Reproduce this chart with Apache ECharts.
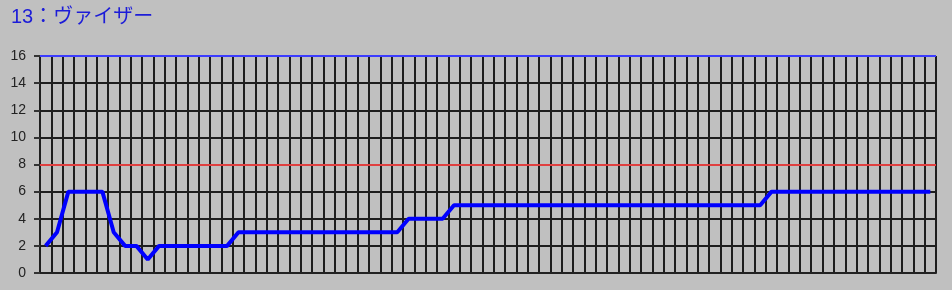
<!DOCTYPE html>
<html>
<head>
<meta charset="utf-8">
<script src="https://cdn.jsdelivr.net/npm/echarts@6/dist/echarts.min.js"></script>
<style>
html,body{margin:0;padding:0;background:#c0c0c0;}
#c{width:952px;height:290px;}
</style>
</head>
<body>
<div id="c"></div>
<script>
const titleText = "13：ヴァイザー";
const values = [2,3,6,6,6,6,3,2,2,1,2,2,2,2,2,2,2,
  3,3,3,3,3,3,3,3,3,3,3,3,3,3,3,
  4,4,4,4,
  5,5,5,5,5,5,5,5,5,5,5,5,5,5,5,5,5,5,5,5,5,5,5,5,5,5,5,5,
  6,6,6,6,6,6,6,6,6,6,6,6,6,6,6];
const categories = values.map((v, i) => String(i + 1));
const yMin = 0, yMax = 16, yInterval = 2;
const redLevel = 8;
const topLevel = 16;

const chart = echarts.init(document.getElementById('c'), null, {renderer: 'canvas'});
chart.setOption({
  backgroundColor: '#c0c0c0',
  animation: false,
  title: {
    text: titleText,
    left: 6, top: 2,
    textStyle: {color: '#1c1cd8', fontSize: 20, fontWeight: 'normal', fontFamily: '"Liberation Sans", "Noto Sans CJK JP", sans-serif'}
  },
  grid: {left: 40, right: 16, top: 56, bottom: 17, containLabel: false},
  xAxis: {
    type: 'category',
    data: categories,
    boundaryGap: true,
    axisLine: {show: true, lineStyle: {color: '#222', width: 2}},
    axisTick: {show: false},
    axisLabel: {show: false},
    splitLine: {show: true, interval: 0, lineStyle: {color: '#1e1e1e', width: 2}}
  },
  yAxis: {
    type: 'value',
    min: yMin, max: yMax, interval: yInterval,
    axisLine: {show: false},
    axisTick: {show: true, length: 6, lineStyle: {color: '#333', width: 2}},
    axisLabel: {show: true, margin: 14, color: '#222', fontSize: 14, fontFamily: '"Liberation Sans", Arial, sans-serif'},
    splitLine: {show: true, lineStyle: {color: '#1e1e1e', width: 2}}
  },
  series: [{
    type: 'line',
    data: values,
    showSymbol: false,
    symbol: 'none',
    lineStyle: {color: '#0000ff', width: 4},
    z: 5,
    markLine: {
      silent: true,
      symbol: 'none',
      label: {show: false},
      data: [
        {yAxis: redLevel, lineStyle: {color: '#e04040', width: 2, type: 'solid'}},
        {yAxis: topLevel, lineStyle: {color: '#3c3cff', width: 2, type: 'solid'}}
      ]
    }
  }]
});
</script>
</body>
</html>
